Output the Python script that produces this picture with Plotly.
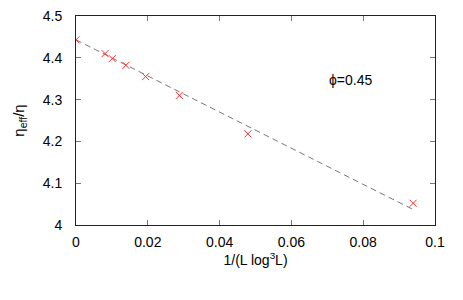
import plotly.graph_objects as go

# data
inv_L_log3L = [0.0, 0.0081, 0.0101, 0.0139, 0.0194, 0.0288, 0.0479, 0.0939]
eta_ratio = [4.443, 4.410, 4.398, 4.382, 4.355, 4.310, 4.218, 4.052]
fit_x = [0.0, 0.0937]
fit_y = [4.443, 4.038]
x_ticks = [0, 0.02, 0.04, 0.06, 0.08, 0.1]
x_tick_text = ["0", "0.02", "0.04", "0.06", "0.08", "0.1"]
y_ticks = [4, 4.1, 4.2, 4.3, 4.4, 4.5]
y_tick_text = ["4", "4.1", "4.2", "4.3", "4.4", "4.5"]

FONT = "Liberation Sans, Arial, sans-serif"

fig = go.Figure()
fig.add_trace(go.Scatter(
    x=fit_x, y=fit_y, mode="lines",
    line=dict(color="#777777", width=1, dash="6px,4px"),
    showlegend=False, hoverinfo="skip"))
fig.add_trace(go.Scatter(
    x=inv_L_log3L, y=eta_ratio, mode="markers",
    marker=dict(symbol="x-thin", size=7, line=dict(color="#ff3030", width=1)),
    showlegend=False))

axis_common = dict(
    showgrid=False, zeroline=False, showline=True, linecolor="#222222", linewidth=1,
    mirror="ticks", ticks="inside", ticklen=5, tickcolor="#777777", tickwidth=1,
    tickfont=dict(family=FONT, size=14, color="black"), automargin=False,
)

fig.update_layout(
    width=463, height=300,
    margin=dict(l=76, r=28, t=16, b=75),
    paper_bgcolor="white", plot_bgcolor="white",
    xaxis=dict(range=[0, 0.1], tickvals=x_ticks, ticktext=x_tick_text, ticklabelstandoff=4,
               title=dict(text="1/(L log<sup>3</sup>L)", font=dict(family=FONT, size=14, color="black"), standoff=6),
               **axis_common),
    yaxis=dict(range=[4, 4.5], tickvals=y_ticks, ticktext=y_tick_text, ticklabelstandoff=10,
               title=dict(text="η<sub>eff</sub>/η", font=dict(family=FONT, size=15, color="black"), standoff=14),
               **axis_common),
    annotations=[dict(x=0.0764, y=4.348, xref="x", yref="y", text="ϕ=0.45",
                      showarrow=False, font=dict(family=FONT, size=14, color="black"))],
)

fig.write_html("out.html", config={"displayModeBar": False},
               post_script="document.body.style.margin='0';")
